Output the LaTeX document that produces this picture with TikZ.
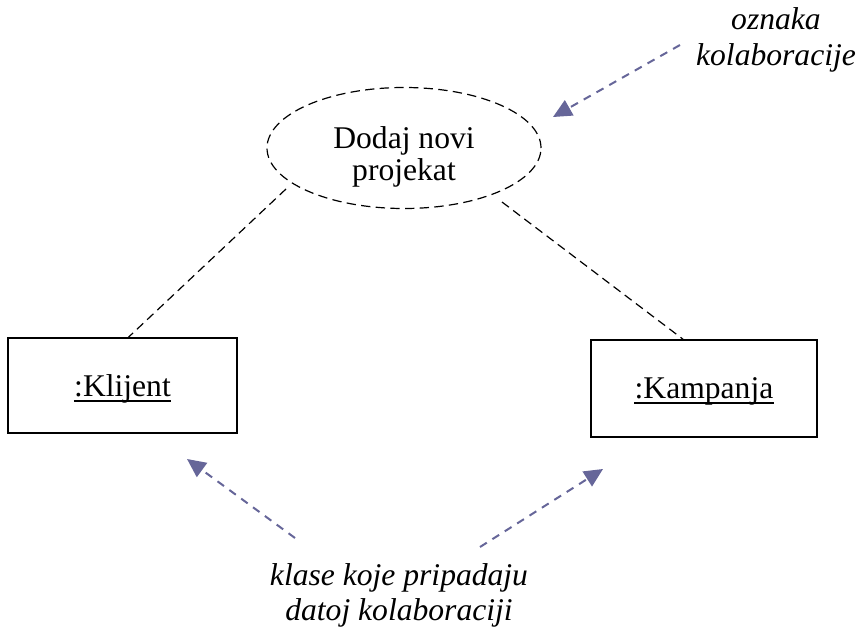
\documentclass[tikz,border=0pt]{standalone}
\usepackage{fontspec}
\setmainfont{Liberation Serif}
\usetikzlibrary{arrows.meta,shapes.geometric,calc}
\definecolor{arrowc}{HTML}{666699}
\begin{document}
\begin{tikzpicture}[x=0.75pt,y=-0.75pt,
  txt/.style={font=\fontsize{23.7}{24}\selectfont, inner sep=0pt, anchor=base},
  itxt/.style={txt, font=\fontsize{23.7}{24}\selectfont\itshape},
  obj/.style={draw, line width=1.2pt, minimum width=229*0.75pt, minimum height=95*0.75pt, inner sep=0pt},
  uline/.style={line width=1.4pt},
  link/.style={draw, line width=0.9pt, dash pattern=on 6.5pt off 4pt},
  note/.style={draw=arrowc, line width=1.5pt, dash pattern=on 6pt off 5pt,
    -{Triangle[length=14pt,width=13pt]}}]
\useasboundingbox (0,0) rectangle (861,639);
% collaboration
\node[draw, ellipse, line width=0.9pt, dash pattern=on 7pt off 4pt,
  minimum width=274*0.75pt, minimum height=121*0.75pt, inner sep=0pt] (ell) at (404,148) {};
\node[txt] (t1) at (404,148) {Dodaj novi};
\node[txt] (t2) at (404,180) {projekat};
% objects
\node[obj] (kl) at (122.5,385.5) {};
\node[txt] (klt) at (122.5,396) {:Klijent};
\draw[uline] ($(klt.base west)+(0,5)$) -- ($(klt.base east)+(0,5)$);
\node[obj, minimum width=226*0.75pt, minimum height=97*0.75pt] (ka) at (704,388.5) {};
\node[txt] (kat) at (704,398) {:Kampanja};
\draw[uline] ($(kat.base west)+(0,5)$) -- ($(kat.base east)+(0,5)$);
% links
\coordinate (e1) at (286,189);
\coordinate (e2) at (502,202);
\coordinate (k1) at ($(kl.north)+(6,0)$);
\coordinate (k2) at ($(ka.north)+(-21,0)$);
\draw[link] (e1) -- (k1);
\draw[link] (e2) -- (k2);
% notes
\node[itxt] (n1) at (776,30) {oznaka};
\node[itxt] (n2) at (776,65) {kolaboracije};
\node[itxt] (b1) at (399,585) {klase koje pripadaju};
\node[itxt] (b2) at (399,620) {datoj kolaboraciji};
\coordinate (a1s) at (680,45);
\coordinate (a1e) at (553,117);
\coordinate (a2s) at (295,538);
\coordinate (a2e) at (187,459);
\coordinate (a3s) at (480,547);
\coordinate (a3e) at (603,469);
\draw[note] (a1s) -- (a1e);
\draw[note] (a2s) -- (a2e);
\draw[note] (a3s) -- (a3e);
\end{tikzpicture}
\end{document}
